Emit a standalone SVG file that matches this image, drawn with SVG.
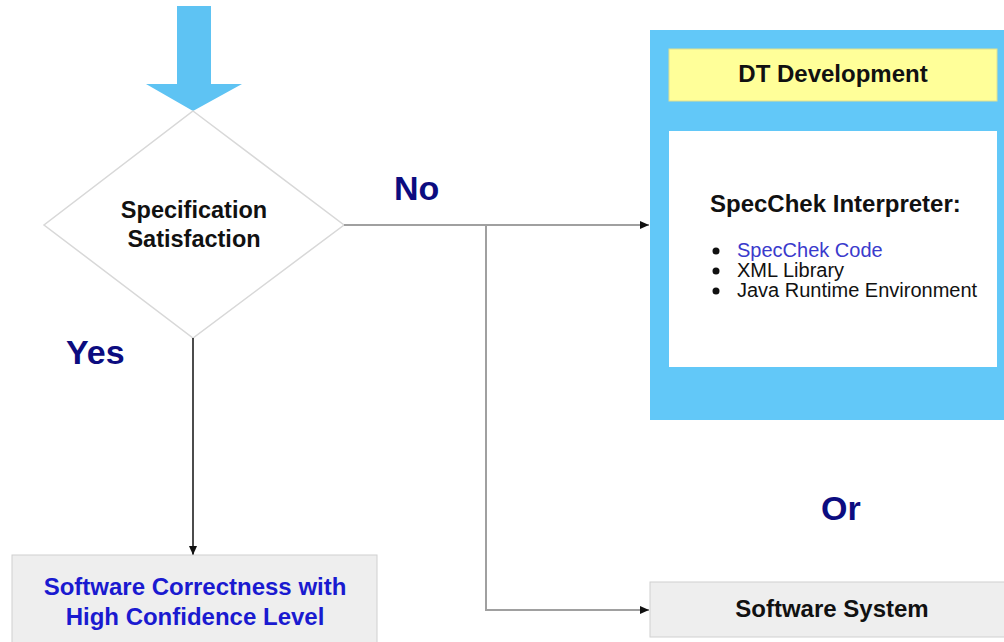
<svg xmlns="http://www.w3.org/2000/svg" width="1004" height="642" viewBox="0 0 1004 642">
<defs>
<style>
.t{font-family:"Liberation Sans",Arial,sans-serif;font-weight:bold;}
.lbl{font-family:"Liberation Sans",Arial,sans-serif;font-weight:bold;font-size:34px;fill:#0c0c80;}
.conn{fill:none;stroke:#a0a0a0;stroke-width:2;}
.box{fill:#eeeeee;stroke:#d0d0d0;stroke-width:1;}
.li{font-family:"Liberation Sans",Arial,sans-serif;font-size:20px;fill:#111;}
</style>
<marker id="ah" markerWidth="10" markerHeight="10" refX="9" refY="5" orient="auto" markerUnits="userSpaceOnUse">
<path d="M0,1 L9,5 L0,9 Z" fill="#111"/>
</marker>
</defs>
<rect width="1004" height="642" fill="#ffffff"/>
<g id="start-arrow">
<polygon points="177,6 211,6 211,84 242,84 193,111 146,84 177,84" fill="#5ec3f3"/>
</g>
<g id="decision">
<polygon points="193,111 344,225 193,338 44,225" fill="#ffffff" stroke="#d8d8d8" stroke-width="1.5"/>
<text class="t" x="194" y="218" font-size="23.5" text-anchor="middle" fill="#111">Specification</text>
<text class="t" x="194" y="247" font-size="23.5" text-anchor="middle" fill="#111">Satisfaction</text>
</g>
<g id="connectors">
<line class="conn" x1="344" y1="225" x2="649" y2="225" marker-end="url(#ah)"/>
<polyline class="conn" points="486,225 486,610 649,610" marker-end="url(#ah)"/>
<line x1="193" y1="338" x2="193" y2="555" stroke="#111" stroke-width="1.5" marker-end="url(#ah)"/>
</g>
<g id="labels">
<text class="lbl" x="394" y="200">No</text>
<text class="lbl" x="66" y="364" font-size="35">Yes</text>
<text class="lbl" x="821" y="520">Or</text>
</g>
<g id="dt-development">
<rect x="650" y="30" width="360" height="390" fill="#62c8f8"/>
<rect x="669" y="49" width="328" height="52" fill="#ffff99" stroke="#e0e090" stroke-width="1"/>
<text class="t" x="833" y="82" font-size="24" text-anchor="middle" fill="#111">DT Development</text>
<rect x="669" y="131" width="328" height="236" fill="#ffffff"/>
<text class="t" x="710" y="212" font-size="24" fill="#111">SpecChek Interpreter:</text>
<circle cx="716" cy="251" r="3.5" fill="#111"/>
<circle cx="716" cy="271" r="3.5" fill="#111"/>
<circle cx="716" cy="291" r="3.5" fill="#111"/>
<text class="li" x="737" y="257" style="fill:#3a3acc">SpecChek Code</text>
<text class="li" x="737" y="277">XML Library</text>
<text class="li" x="737" y="297">Java Runtime Environment</text>
</g>
<g id="software-correctness">
<rect class="box" x="12" y="555" width="365" height="90"/>
<text class="t" x="195" y="595" font-size="24" text-anchor="middle" fill="#1a1ad0">Software Correctness with</text>
<text class="t" x="195" y="625" font-size="24" text-anchor="middle" fill="#1a1ad0">High Confidence Level</text>
</g>
<g id="software-system">
<rect class="box" x="650" y="582" width="360" height="55"/>
<text class="t" x="832" y="617" font-size="24" text-anchor="middle" fill="#111">Software System</text>
</g>
</svg>
